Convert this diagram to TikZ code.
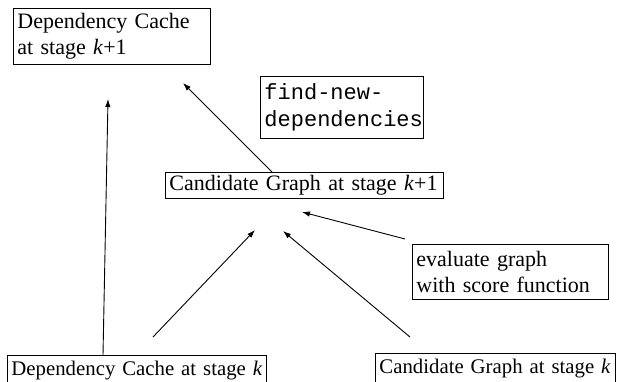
\documentclass[tikz,border=0pt]{standalone}
\usepackage{fontspec}
\setmainfont{Liberation Serif}
\setmonofont{Liberation Mono}
\usetikzlibrary{arrows.meta}
\begin{document}
\begin{tikzpicture}[x=1pt,y=-1pt,
  box/.style={draw, line width=0.9pt, anchor=north west, align=left,
    inner xsep=4pt, inner ysep=0pt,
    font=\fontsize{22}{26}\selectfont},
  lowbox/.style={box, minimum height=36pt, text height=13pt, text depth=9pt,
    font=\fontsize{20.8}{26}\selectfont},
  conn/.style={line width=0.9pt, -{Latex[length=8pt,width=5.5pt]}}]
\useasboundingbox (0,0) rectangle (618,381);
\node[box, text width=189pt, minimum height=56pt] (dck1) at (13,8)
  {Dependency Cache\\at stage \textit{k}+1};
\node[box, text width=155pt, minimum height=62pt, font=\ttfamily\fontsize{22}{27}\selectfont] (fnd) at (260,76)
  {find-new-\\dependencies};
\node[box, text width=270pt, minimum height=26pt] (cg1) at (165,172)
  {\mbox{Candidate Graph at stage \textit{k}+1}};
\node[box, text width=188pt, minimum height=55pt] (eval) at (412,244)
  {evaluate graph\\with score function};
\node[lowbox, text width=251pt] (dck) at (7,355)
  {\mbox{Dependency Cache at stage \textit{k}}};
\node[lowbox, text width=232pt] (cgk) at (375,353)
  {\mbox{Candidate Graph at stage \textit{k}}};
\coordinate (a1s) at (103,355);
\coordinate (a1e) at (108,99);
\coordinate (a2s) at (153,337);
\coordinate (a2e) at (255,230);
\coordinate (a3s) at (410,337);
\coordinate (a3e) at (283,231);
\coordinate (a4s) at (405,239);
\coordinate (a4e) at (302,212);
\coordinate (a5s) at (272,172);
\coordinate (a5e) at (183,83);
\draw[conn] (a1s) -- (a1e);
\draw[conn] (a2s) -- (a2e);
\draw[conn] (a3s) -- (a3e);
\draw[conn] (a4s) -- (a4e);
\draw[conn] (a5s) -- (a5e);
\end{tikzpicture}
\end{document}
